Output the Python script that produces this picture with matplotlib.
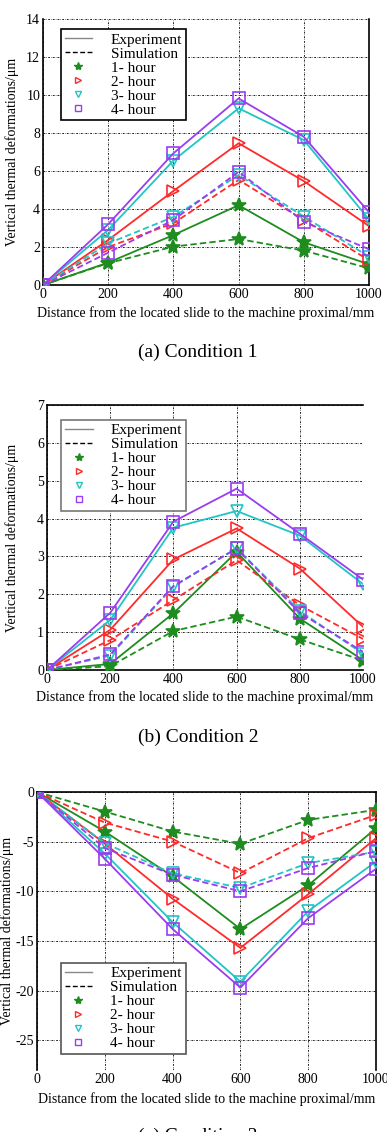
import matplotlib
matplotlib.use("Agg")
import matplotlib.pyplot as plt
from matplotlib.lines import Line2D

plt.rcParams['font.family'] = ['Liberation Serif', 'DejaVu Serif']
plt.rcParams['axes.unicode_minus'] = False

x = [0, 200, 400, 600, 800, 1000]
hours = ["1- hour", "2- hour", "3- hour", "4- hour"]
colors = ["#1e8c1e", "#ff2a2a", "#22c4c4", "#9a3cf0"]
markers = ["*", ">", "v", "s"]

# Condition 1
c1_exp = [
    [0, 1.18, 2.63, 4.2, 2.25, 1.09],
    [0, 2.37, 4.95, 7.46, 5.47, 3.1],
    [0, 2.9, 6.55, 9.3, 7.63, 3.45],
    [0, 3.2, 6.93, 9.82, 7.8, 3.83],
]
c1_sim = [
    [0, 1.15, 2.02, 2.42, 1.81, 0.88],
    [0, 2.0, 3.25, 5.53, 3.42, 1.3],
    [0, 2.19, 3.58, 5.79, 3.6, 1.49],
    [0, 1.7, 3.42, 5.96, 3.33, 1.88],
]
# Condition 2
c2_exp = [
    [0, 0.16, 1.5, 3.12, 1.36, 0.26],
    [0, 1.06, 2.92, 3.74, 2.68, 1.14],
    [0, 1.32, 3.76, 4.2, 3.55, 2.27],
    [0, 1.51, 3.92, 4.79, 3.6, 2.39],
]
c2_sim = [
    [0, 0.1, 1.03, 1.41, 0.81, 0.25],
    [0, 0.79, 1.85, 2.9, 1.71, 0.82],
    [0, 0.38, 2.2, 3.22, 1.56, 0.43],
    [0, 0.41, 2.22, 3.21, 1.51, 0.48],
]
# Condition 3
c3_exp = [
    [0, -3.98, -8.5, -13.8, -9.4, -3.65],
    [0, -5.2, -10.75, -15.7, -10.3, -4.65],
    [0, -6.2, -13.1, -19.1, -12.0, -7.0],
    [0, -6.73, -13.8, -19.7, -12.7, -7.73],
]
c3_sim = [
    [0, -1.97, -3.98, -5.22, -2.81, -1.8],
    [0, -3.08, -4.99, -8.17, -4.65, -2.31],
    [0, -5.15, -8.2, -9.67, -7.16, -6.02],
    [0, -5.65, -8.33, -10.0, -7.66, -5.96],
]

xlabel = "Distance from the located slide to the machine proximal/mm"
ylabel = "Vertical thermal deformations/μm"
captions = ["(a) Condition 1", "(b) Condition 2", "(c) Condition 3"]

W, H = 387, 1132
fig = plt.figure(figsize=(W / 100, H / 100), dpi=100)

def rect(l, r, t, b):
    return [l / W, 1 - b / H, (r - l) / W, (b - t) / H]

panels = [
    dict(rect=rect(43, 369, 19, 285), exp=c1_exp, sim=c1_sim, ylim=(0, 14),
         yticks=[0, 2, 4, 6, 8, 10, 12, 14], hide=['top'],
         leg=(0.055, 0.962), ec='black', xl=313, cap=352, ylx=12),
    dict(rect=rect(47, 363, 405, 670), exp=c2_exp, sim=c2_sim, ylim=(0, 7),
         yticks=[0, 1, 2, 3, 4, 5, 6, 7], hide=['right'],
         leg=(0.045, 0.945), ec='#777777', xl=697, cap=737, ylx=12),
    dict(rect=rect(37, 376, 792, 1070), exp=c3_exp, sim=c3_sim, ylim=(-28, 0),
         yticks=[0, -5, -10, -15, -20, -25], hide=['bottom'],
         leg=(0.07, 0.385), ec='#555555', xl=1099, cap=1136, ylx=7),
]

grid_ls = (0, (2.2, 1.4, 0.6, 1.4))
for k, p in enumerate(panels):
    ax = fig.add_axes(p['rect'])
    for i in range(4):
        ms = 10 if markers[i] == '*' else 8
        mfc = colors[i] if markers[i] == '*' else 'none'
        ax.plot(x, p['exp'][i], color=colors[i], lw=1.3, marker=markers[i],
                ms=ms, mfc=mfc, mec=colors[i], mew=1.2, zorder=3)
        ax.plot(x, p['sim'][i], color=colors[i], lw=1.3, ls=(0, (3.5, 1.8)),
                marker=markers[i], ms=ms, mfc=mfc, mec=colors[i], mew=1.2,
                zorder=3)
    ax.set_xlim(0, 1000)
    ax.set_ylim(*p['ylim'])
    ax.set_xticks(x)
    ax.set_yticks(p['yticks'])
    ax.grid(True, color='black', lw=0.6, ls=grid_ls)
    ax.set_axisbelow(True)
    for s in p['hide']:
        ax.spines[s].set_visible(False)
    for s in ax.spines.values():
        s.set_linewidth(1.2)
    ax.tick_params(direction='in', length=0, labelsize=10, pad=2)
    bb = ax.get_position()
    fig.text((bb.x0 + bb.x1) / 2, 1 - p['xl'] / H, xlabel, ha='center',
             va='center', fontsize=10)
    fig.text(p['ylx'] / W, (bb.y0 + bb.y1) / 2, ylabel, rotation=90,
             ha='center', va='center', fontsize=10)
    fig.text(198 / W, 1 - p['cap'] / H, captions[k],
             ha='center', va='center', fontsize=14)

    handles = [Line2D([], [], color='#888888', lw=1.0),
               Line2D([], [], color='black', lw=1.0, ls=(0, (3.5, 1.8)))]
    for i in range(4):
        handles.append(Line2D([], [], ls='none', marker=markers[i],
                              ms=6 if markers[i] == '*' else 5,
                              mfc=colors[i] if markers[i] == '*' else 'none',
                              mec=colors[i], mew=1.0))
    labels = ["Experiment", "Simulation"] + hours
    leg = ax.legend(handles, labels, loc='upper left', bbox_to_anchor=p['leg'],
                    fontsize=11, frameon=True, fancybox=False,
                    edgecolor=p['ec'], framealpha=1, borderpad=0.25,
                    labelspacing=0.02, handlelength=1.8, handletextpad=1.2,
                    borderaxespad=0)
    leg.get_frame().set_linewidth(1.2)
    leg.set_zorder(5)

fig.savefig("out.png", dpi=100)
